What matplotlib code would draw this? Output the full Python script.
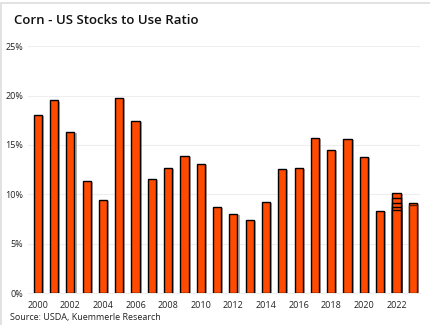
import matplotlib
matplotlib.use("Agg")
import matplotlib.pyplot as plt
import matplotlib.patheffects as pe
from matplotlib.patches import Rectangle

years = list(range(2000, 2024))
stocks_to_use = [18.0, 19.5, 16.3, 11.4, 9.4, 19.8, 17.4, 11.6, 12.7, 13.9,
                 13.1, 8.7, 8.0, 7.4, 9.2, 12.6, 12.7, 15.7, 14.5, 15.6,
                 13.8, 8.3, 10.1, 9.1]
# successive estimates for the latest marketing years, drawn on top of each other
revisions_2022 = [9.6, 9.1, 8.7, 8.4]
revisions_2023 = [8.9]

bar_color = "#FF4A00"
plt.rcParams["font.family"] = ["Open Sans", "DejaVu Sans"]

fig = plt.figure(figsize=(4.3, 3.25), dpi=100)
ax = fig.add_axes([0.065, 0.098, 0.912, 0.76])

shadow = [pe.SimplePatchShadow(offset=(1.5, -0.8), shadow_rgbFace="#999999", alpha=0.8), pe.Normal()]
bars = ax.bar(years, stocks_to_use, width=0.5, color=bar_color,
              edgecolor="black", linewidth=1.0, zorder=3)
for b in bars:
    b.set_path_effects(shadow)
for v in revisions_2022:
    ax.bar(2022, v, width=0.5, color=bar_color, edgecolor="black", linewidth=1.0, zorder=4)
for v in revisions_2023:
    ax.bar(2023, v, width=0.5, color=bar_color, edgecolor="#5a1a00", linewidth=1.0, zorder=4)

ax.set_ylim(0, 25)
ax.set_xlim(1999.4, 2023.45)
ax.set_yticks([0, 5, 10, 15, 20, 25])
ax.set_yticklabels([f"{t}%" for t in [0, 5, 10, 15, 20, 25]])
ax.set_xticks(list(range(2000, 2023, 2)))
ax.tick_params(axis="both", length=0, labelsize=6.5, colors="#222222")
ax.tick_params(axis="x", pad=6)
ax.grid(axis="y", color="#eeeeee", linewidth=0.8, zorder=0)
for s in ["top", "right", "left"]:
    ax.spines[s].set_visible(False)
ax.spines["bottom"].set_color("#eeeeee")

fig.text(0.033, 0.938, "Corn - US Stocks to Use Ratio", fontsize=9.5, color="#111111",
         fontweight="semibold", va="center")
fig.text(0.023, 0.022, "Source: USDA, Kuemmerle Research", fontsize=6.5, color="#222222", va="center")

fig.patches.append(Rectangle((0.003, -0.02), 1.2, 1.01, transform=fig.transFigure,
                             fill=False, edgecolor="#dddddd", linewidth=1.2))

fig.savefig("out.png", dpi=100)
